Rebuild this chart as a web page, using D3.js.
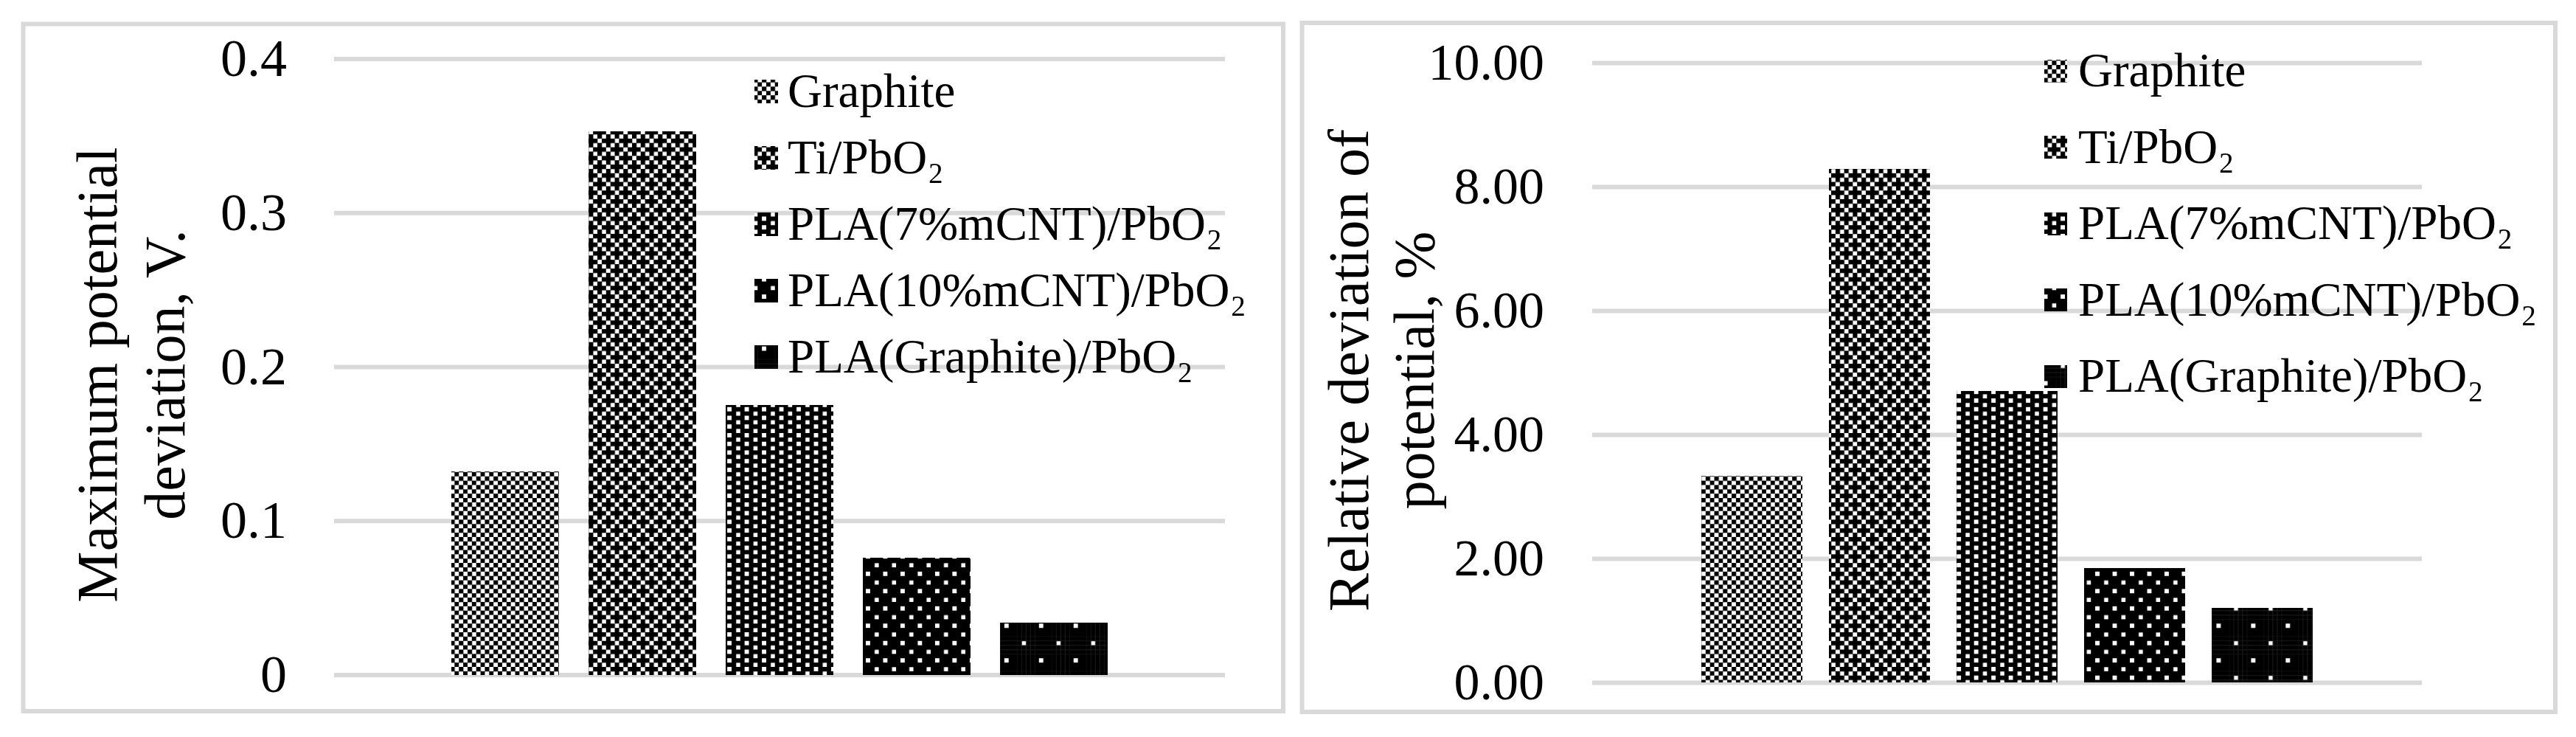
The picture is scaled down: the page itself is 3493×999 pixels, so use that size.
<!DOCTYPE html>
<html>
<head>
<meta charset="utf-8">
<script src="https://cdn.jsdelivr.net/npm/d3@7"></script>
<style>
  body { margin: 0; background: #fff; }
  text { font-family: "Liberation Serif", "Times New Roman", serif; fill: #000; }
</style>
</head>
<body>
<div id="chart"></div>
<script>
// data
const series = ["Graphite", "Ti/PbO₂", "PLA(7%mCNT)/PbO₂", "PLA(10%mCNT)/PbO₂", "PLA(Graphite)/PbO₂"];
const maxDeviation = [0.132, 0.353, 0.175, 0.076, 0.034];
const relDeviation = [3.33, 8.28, 4.70, 1.85, 1.20];
const maxTicks = [0, 0.1, 0.2, 0.3, 0.4];
const relTicks = [0, 2, 4, 6, 8, 10];
const maxTitle = ["Maximum potential", "deviation, V."];
const relTitle = ["Relative deviation of", "potential, %"];

const width = 3493, height = 999;

const svg = d3.select("#chart")
  .append("svg")
    .attr("width", width)
    .attr("height", height);

// excel style pattern fills, "1" = black pixel
const px = 5.87;
const patterns = [
  ["10", "01"],
  ["1101", "1010", "0111", "1010"],
  ["0111", "1101"],
  ["0111", "1111", "1101", "1111"],
  ["01111111", "11111111", "11111111", "11111111", "11110111", "11111111", "11111111", "11111111"]
];

const defs = svg.append("defs");
patterns.forEach(function(rows, i) {
  const pw = rows[0].length * px, ph = rows.length * px;
  const pat = defs.append("pattern")
    .attr("id", "pat" + i)
    .attr("patternUnits", "userSpaceOnUse")
    .attr("width", pw)
    .attr("height", ph);
  pat.append("rect").attr("width", pw).attr("height", ph).attr("fill", "#fff");
  rows.forEach(function(r, y) {
    r.split("").forEach(function(c, x) {
      if (c === "1") {
        pat.append("rect")
          .attr("x", x * px).attr("y", y * px)
          .attr("width", px + 0.3).attr("height", px + 0.3)
          .attr("fill", "#000");
      }
    });
  });
});

// layout of the two panels
const panels = [
  {
    values: maxDeviation, ticks: maxTicks, domain: [0, 0.4], fmt: function(d) { return String(d); },
    title: maxTitle, tickFont: 72,
    frame: [31.5, 32.5, 1740, 964],
    px: [453, 1661], py: [914.5, 79.5], tickPad: 64,
    titleX: [158, 250], titleY: 508,
    legX: 1023, legSize: 32, legTextX: 1068, legY0: 124, legStep: 90
  },
  {
    values: relDeviation, ticks: relTicks, domain: [0, 10], fmt: d3.format(".2f"),
    title: relTitle, tickFont: 70,
    frame: [1765.5, 31, 3465, 965],
    px: [2159, 3284], py: [925, 85], tickPad: 65,
    titleX: [1855, 1944], titleY: 502,
    legX: 2772, legSize: 31, legTextX: 2818, legY0: 96, legStep: 103.5
  }
];

panels.forEach(function(p) {
  const g = svg.append("g");

  // chart frame
  g.append("rect")
    .attr("x", p.frame[0]).attr("y", p.frame[1])
    .attr("width", p.frame[2] - p.frame[0])
    .attr("height", p.frame[3] - p.frame[1])
    .attr("fill", "#fff")
    .attr("stroke", "#d9d9d9")
    .attr("stroke-width", 6);

  const plotW = p.px[1] - p.px[0];

  const y = d3.scaleLinear().domain(p.domain).range(p.py);

  // one category, bars side by side
  const x0 = d3.scaleBand().domain([""]).range(p.px).paddingOuter(0.178);
  const x1 = d3.scaleBand().domain(series).range([0, x0.bandwidth()]).paddingInner(0.21);

  // y axis with gridlines
  const axis = g.append("g")
    .attr("transform", "translate(" + p.px[0] + ",0)")
    .call(d3.axisLeft(y)
      .tickValues(p.ticks)
      .tickSize(-plotW)
      .tickPadding(p.tickPad)
      .tickFormat(p.fmt));
  axis.select(".domain").remove();
  axis.selectAll(".tick line")
    .attr("stroke", "#d9d9d9")
    .attr("stroke-width", 6);
  axis.selectAll(".tick text")
    .attr("font-family", "Liberation Serif")
    .attr("font-size", p.tickFont + "px")
    .attr("fill", "#000");

  // bars
  g.append("g")
    .selectAll("rect")
    .data(p.values)
    .join("rect")
      .attr("x", function(d, i) { return x0("") + x1(series[i]); })
      .attr("y", function(d) { return y(d); })
      .attr("width", x1.bandwidth())
      .attr("height", function(d) { return y(0) - y(d); })
      .attr("fill", function(d, i) { return "url(#pat" + i + ")"; })
      .attr("shape-rendering", "crispEdges");

  // y axis title, two lines
  p.title.forEach(function(t, i) {
    g.append("text")
      .attr("transform", "translate(" + p.titleX[i] + "," + p.titleY + ") rotate(-90)")
      .attr("text-anchor", "middle")
      .attr("font-size", "78px")
      .text(t);
  });

  // legend
  const leg = g.append("g");
  series.forEach(function(s, i) {
    const cy = p.legY0 + i * p.legStep;
    leg.append("rect")
      .attr("x", p.legX)
      .attr("y", cy - p.legSize / 2)
      .attr("width", p.legSize)
      .attr("height", p.legSize)
      .attr("fill", "url(#pat" + i + ")")
      .attr("shape-rendering", "crispEdges");
    leg.append("text")
      .attr("x", p.legTextX)
      .attr("y", cy)
      .attr("dy", "0.33em")
      .attr("font-size", "65px")
      .text(s);
  });
});
</script>
</body>
</html>
